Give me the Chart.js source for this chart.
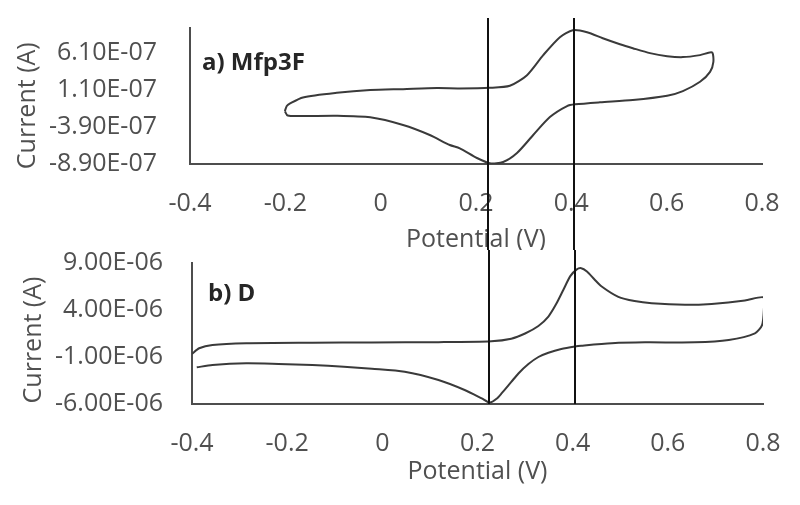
<!DOCTYPE html>
<html lang="en">
<head>
    <meta charset="UTF-8">
    <title>Cyclic voltammetry - Mfp3F / D</title>
    <script src="https://cdn.jsdelivr.net/npm/chart.js"></script>
    <style>
        body { margin: 0; background: white; }
        canvas { position: absolute; left: 0; background: white; }
        #chartA { top: 0; }
        #chartB { top: 250px; }
    </style>
</head>
<body>
    <canvas id="chartA" width="800" height="262"></canvas>
    <canvas id="chartB" width="800" height="255"></canvas>

    <script>
        // a) Mfp3F - one closed sweep, potential (V) and current (A)
        const potA = [-0.201, -0.197, -0.190, -0.163, -0.092, -0.022, 0.047, 0.118, 0.166, 0.229, 0.271,
            0.307, 0.341, 0.376, 0.403, 0.433, 0.466, 0.502, 0.529, 0.565, 0.601, 0.634, 0.670, 0.695,
            0.698, 0.691, 0.670, 0.634, 0.601, 0.529, 0.460, 0.408, 0.391, 0.355, 0.320, 0.286, 0.257,
            0.229, 0.202, 0.166, 0.145, 0.103, 0.047, -0.022, -0.092, -0.163, -0.195, -0.201];
        const curA = [-1.75e-7, -1.05e-7, -0.70e-7, 0.11e-7, 0.73e-7, 1.10e-7, 1.23e-7, 1.37e-7, 1.33e-7, 1.41e-7, 1.68e-7,
            3.12e-7, 5.83e-7, 8.26e-7, 9.20e-7, 8.93e-7, 8.12e-7, 7.31e-7, 6.77e-7, 6.10e-7, 5.69e-7, 5.56e-7, 5.83e-7, 6.19e-7,
            4.92e-7, 3.57e-7, 2.22e-7, 0.96e-7, 0.33e-7, -0.25e-7, -0.55e-7, -0.83e-7, -1.06e-7, -2.55e-7, -4.98e-7, -7.41e-7, -8.63e-7,
            -8.80e-7, -8.09e-7, -6.78e-7, -6.33e-7, -4.98e-7, -3.63e-7, -2.59e-7, -2.37e-7, -2.41e-7, -2.35e-7, -1.75e-7];
        const ticksA = [-8.9e-7, -3.9e-7, 1.1e-7, 6.1e-7];
        const yMinA = -8.9e-7;
        const yMaxA = 9.5e-7;

        // b) D
        const potB = [-0.400, -0.385, -0.357, -0.286, -0.147, -0.022, 0.118, 0.229, 0.271, 0.300, 0.328,
            0.349, 0.365, 0.380, 0.395, 0.408, 0.418, 0.430, 0.445, 0.461, 0.496, 0.530, 0.566, 0.636, 0.692,
            0.762, 0.801, 0.802, 0.798, 0.783, 0.728, 0.657, 0.552, 0.482, 0.418, 0.405, 0.376, 0.349, 0.328,
            0.307, 0.286, 0.271, 0.251, 0.240, 0.226, 0.209, 0.173, 0.118, 0.047, -0.022, -0.081, -0.147,
            -0.218, -0.286, -0.357, -0.390];
        const curB = [-0.68e-6, -0.07e-6, 0.28e-6, 0.46e-6, 0.52e-6, 0.55e-6, 0.58e-6, 0.68e-6, 0.95e-6, 1.5e-6, 2.3e-6,
            3.3e-6, 4.6e-6, 6.1e-6, 7.6e-6, 8.3e-6, 8.45e-6, 8.1e-6, 7.3e-6, 6.5e-6, 5.4e-6, 4.95e-6, 4.71e-6, 4.55e-6, 4.65e-6,
            5.0e-6, 5.35e-6, 4.18e-6, 2.40e-6, 1.52e-6, 0.81e-6, 0.56e-6, 0.56e-6, 0.46e-6, 0.20e-6, 0.12e-6, -0.15e-6, -0.55e-6, -1.0e-6,
            -1.75e-6, -2.75e-6, -3.65e-6, -4.85e-6, -5.45e-6, -5.85e-6, -5.40e-6, -4.51e-6, -3.45e-6, -2.57e-6, -2.25e-6, -2.03e-6, -1.85e-6,
            -1.74e-6, -1.67e-6, -1.85e-6, -2.10e-6];
        const ticksB = [-6e-6, -1e-6, 4e-6, 9e-6];
        const yMinB = -6e-6;
        const yMaxB = 9e-6;

        // shared
        const xTicks = { min: -0.4, max: 0.8, step: 0.2 };
        const markerLines = [0.225, 0.405];   // the two vertical guide lines

        const textColor = '#505050';
        const font = '"Open Sans", "DejaVu Sans", sans-serif';

        // Excel style: 6.10E-07
        function sci(v) {
            return v.toExponential(2).toUpperCase().replace(/E([+-])(\d)$/, 'E$10$2');
        }

        const overlay = {
            id: 'overlay',
            afterDraw(chart, args, opts) {
                const { ctx, chartArea: area, scales } = chart;
                ctx.save();
                ctx.fillStyle = '#262626';
                ctx.font = 'bold 24px ' + font;
                ctx.textBaseline = 'middle';
                ctx.fillText(opts.label, area.left + opts.labelX, area.top + opts.labelY);

                ctx.strokeStyle = '#111';
                ctx.lineWidth = 2;
                const top = opts.fromCanvasTop ? 0 : area.top - 10;
                const bottom = opts.fromCanvasTop ? area.bottom : chart.height;
                markerLines.forEach(v => {
                    const x = Math.round(scales.x.getPixelForValue(v));
                    ctx.beginPath();
                    ctx.moveTo(x, top);
                    ctx.lineTo(x, bottom);
                    ctx.stroke();
                });
                ctx.restore();
            }
        };

        function makeChart(id, pot, cur, yTicks, yMin, yMax, cfg) {
            return new Chart(document.getElementById(id), {
                type: 'scatter',
                data: {
                    datasets: [{
                        data: pot.map((p, i) => ({ x: p, y: cur[i] })),
                        showLine: true,
                        borderColor: '#3a3a3a',
                        borderWidth: 2,
                        pointRadius: 0,
                        tension: 0.25
                    }]
                },
                options: {
                    responsive: false,
                    animation: false,
                    layout: { padding: { left: 0, right: cfg.padRight, top: cfg.padTop, bottom: 0 } },
                    plugins: {
                        legend: { display: false },
                        tooltip: { enabled: false },
                        overlay: cfg.overlay
                    },
                    scales: {
                        x: {
                            type: 'linear',
                            min: xTicks.min,
                            max: xTicks.max,
                            grid: { display: false, drawTicks: false },
                            border: { display: true, color: '#4d4d4d', width: 2 },
                            ticks: {
                                stepSize: xTicks.step,
                                padding: 25,
                                color: textColor,
                                font: { family: font, size: 25 },
                                callback: v => String(Math.round(v * 10) / 10)
                            },
                            title: {
                                display: true,
                                text: 'Potential (V)',
                                color: textColor,
                                font: { family: font, size: 25 },
                                padding: { top: 0, bottom: cfg.xTitlePad }
                            },
                            afterFit: s => {
                                s.height = cfg.xHeight;
                                s.paddingLeft = 0;
                                s.paddingRight = 0;
                            }
                        },
                        y: {
                            min: yMin,
                            max: yMax,
                            grid: { display: false, drawTicks: false },
                            border: { display: true, color: '#4d4d4d', width: 2 },
                            afterBuildTicks: s => { s.ticks = yTicks.map(v => ({ value: v })); },
                            ticks: {
                                padding: cfg.yTickPad,
                                color: textColor,
                                font: { family: font, size: 25 },
                                callback: v => sci(v)
                            },
                            title: {
                                display: true,
                                // trailing spaces nudge the label down like the original
                                text: 'Current (A)' + ' '.repeat(cfg.yTitleShift),
                                color: textColor,
                                font: { family: font, size: 25 },
                                padding: { top: cfg.yTitlePad, bottom: 0 }
                            },
                            afterFit: s => {
                                s.width = cfg.yWidth;
                                s.paddingTop = 0;
                                s.paddingBottom = 0;
                            }
                        }
                    }
                },
                plugins: [overlay]
            });
        }

        makeChart('chartA', potA, curA, ticksA, yMinA, yMaxA, {
            padTop: 28, padRight: 38, xHeight: 98, yWidth: 190,
            yTickPad: 33, yTitlePad: 13, yTitleShift: 3, xTitlePad: 7,
            overlay: { label: 'a) Mfp3F', labelX: 12, labelY: 35, fromCanvasTop: false }
        });
        makeChart('chartB', potB, curB, ticksB, yMinB, yMaxB, {
            padTop: 13, padRight: 37, xHeight: 101, yWidth: 192,
            yTickPad: 29, yTitlePad: 19, yTitleShift: 2, xTitlePad: 18,
            overlay: { label: 'b) D', labelX: 16, labelY: 31, fromCanvasTop: true }
        });
    </script>
</body>
</html>
